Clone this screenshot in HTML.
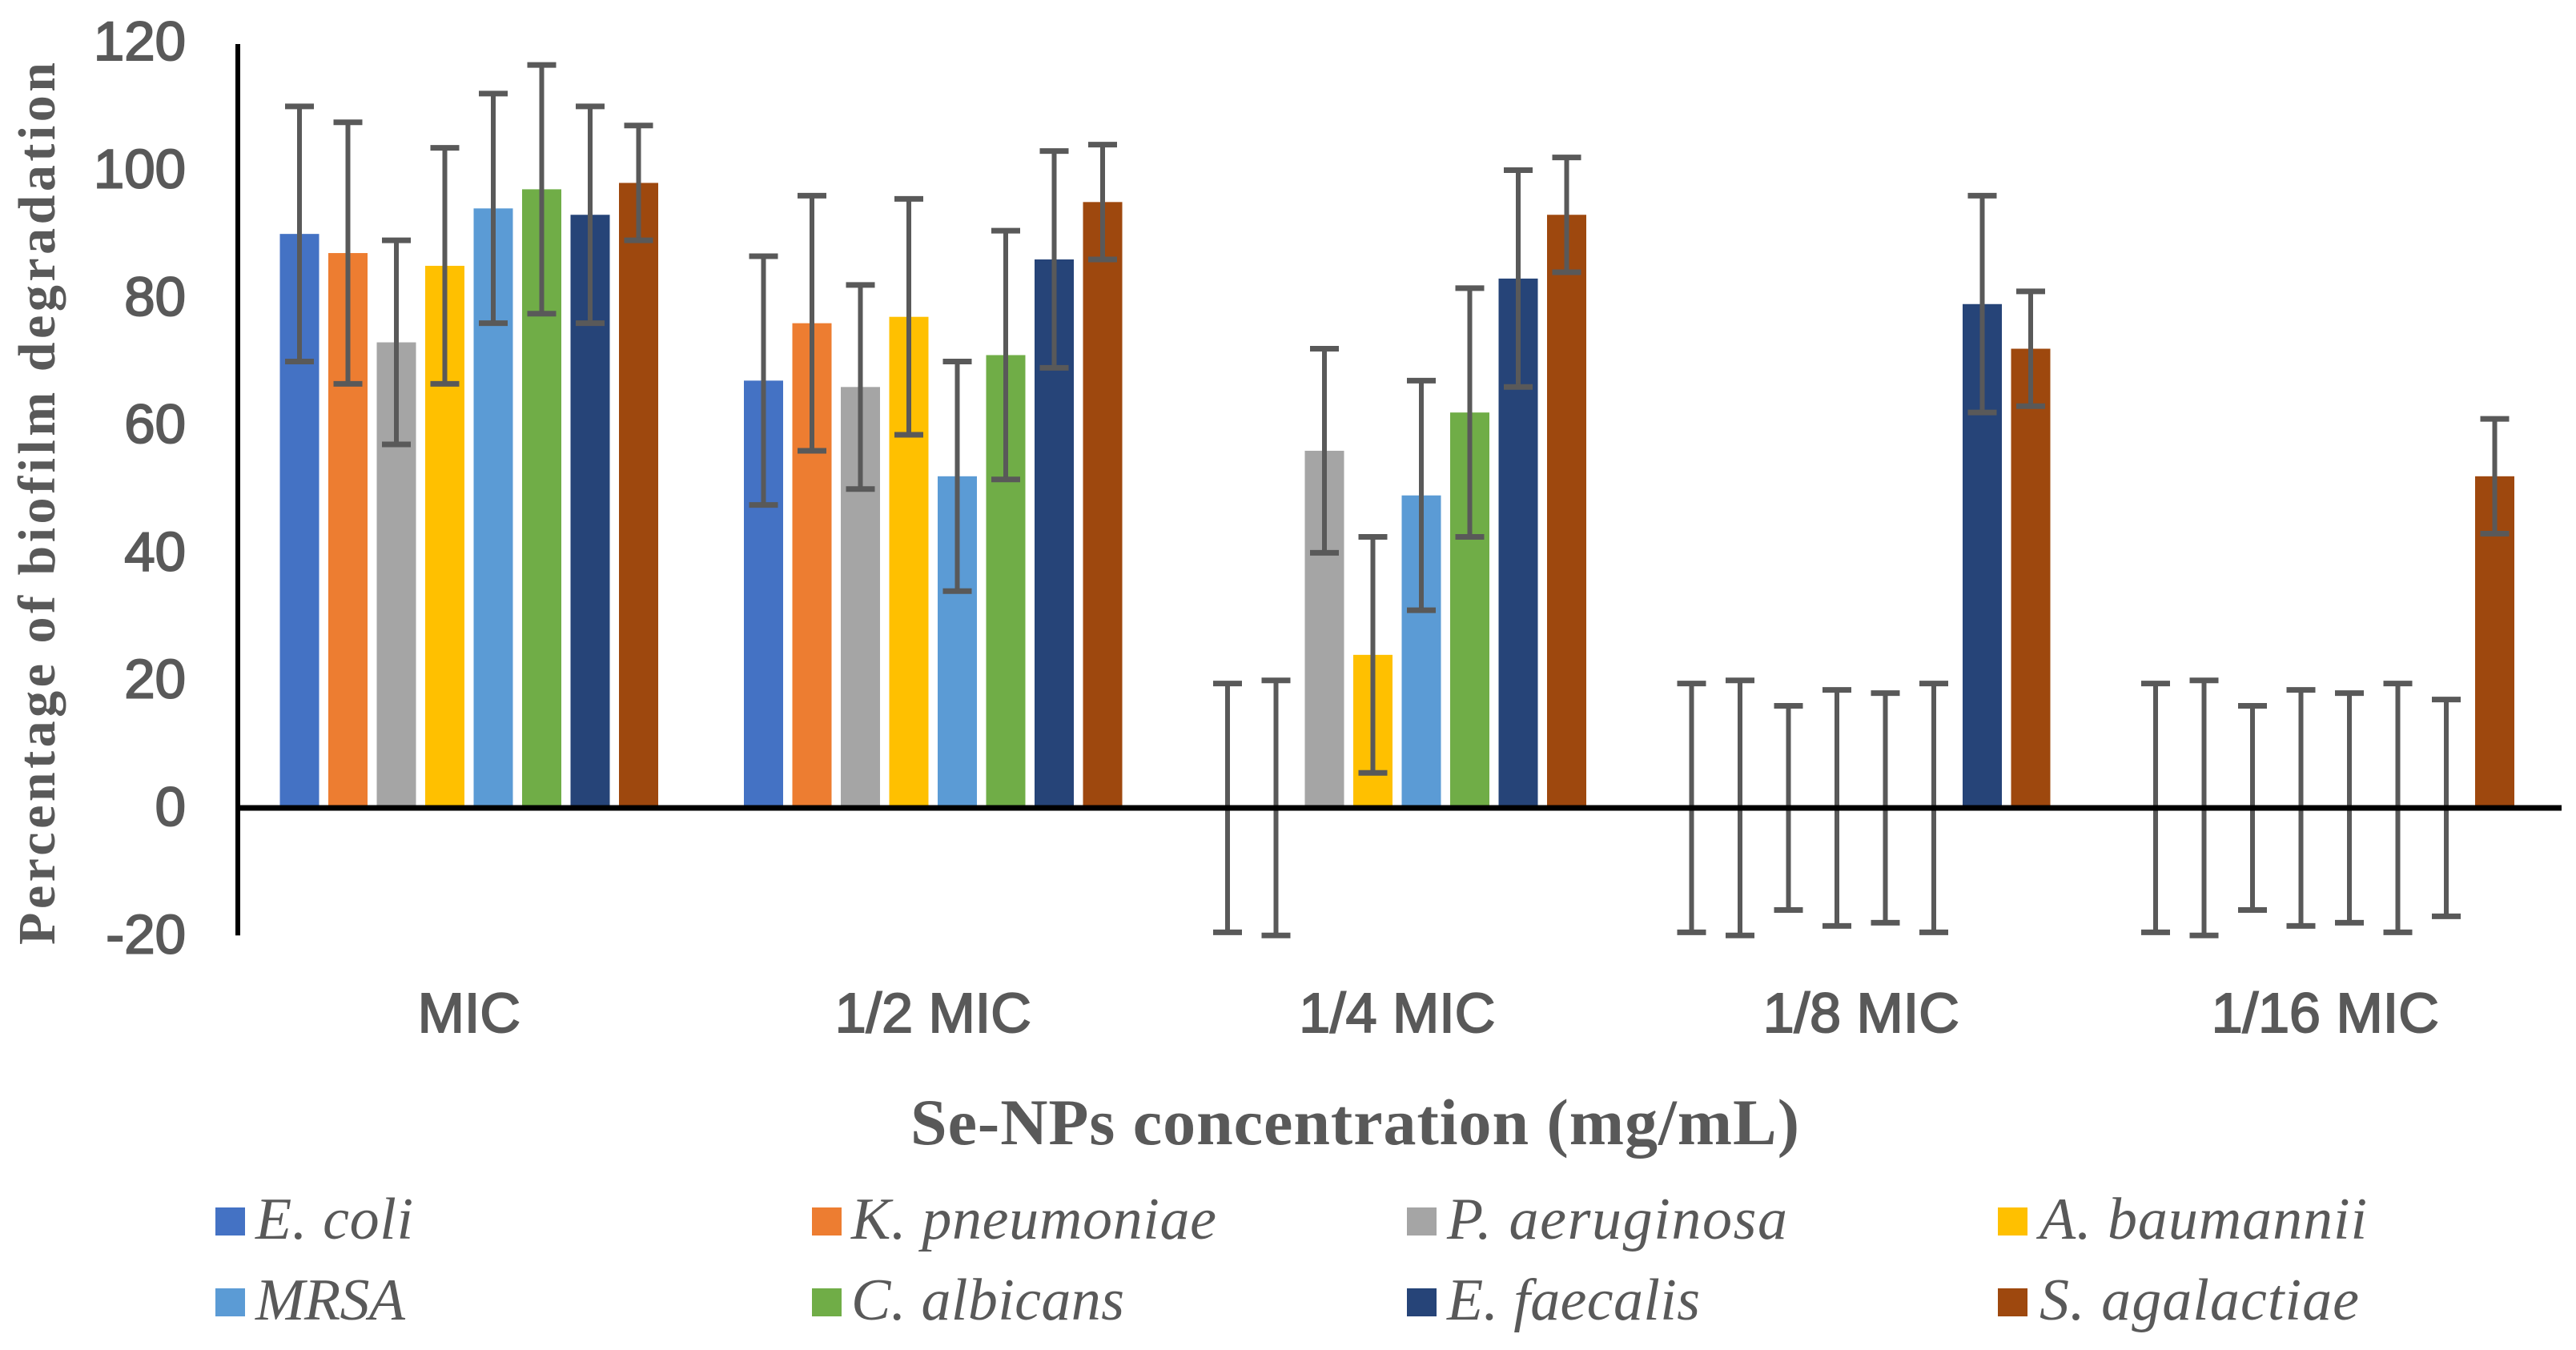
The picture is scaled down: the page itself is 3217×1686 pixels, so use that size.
<!DOCTYPE html>
<html lang="en">
<head>
<meta charset="utf-8">
<title>Percentage of biofilm degradation</title>
<style>
html,body{margin:0;padding:0;background:#fff;width:3217px;height:1686px;overflow:hidden}
svg{display:block}
.tick,.cat{font-family:"Liberation Sans",sans-serif;fill:#595959;stroke:#595959;stroke-width:2}
.title{font-family:"Liberation Serif",serif;font-weight:bold;fill:#595959}
.leg{font-family:"Liberation Serif",serif;font-style:italic;fill:#595959;font-size:74px}
</style>
</head>
<body>
<svg id="chart" xmlns="http://www.w3.org/2000/svg" width="3217" height="1686" viewBox="0 0 3217 1686">
<rect width="3217" height="1686" fill="#fff"/>
<g id="bars"></g>
<g id="ticks"></g>
<g id="cats"></g>
<g id="errs"></g>
<text class="title" transform="translate(68,1180) rotate(-90)" font-size="66" textLength="1102" lengthAdjust="spacing">Percentage of biofilm degradation</text>
<text class="title" x="1137" y="1429" font-size="82" textLength="1110" lengthAdjust="spacing">Se-NPs concentration (mg/mL)</text>
<g id="legend">
<rect x="269" y="1508" width="37" height="35" fill="#4472C4"/>
<text class="leg" x="319" y="1547" textLength="197">E. coli</text>
<rect x="1014" y="1508" width="37" height="35" fill="#ED7D31"/>
<text class="leg" x="1063" y="1547" textLength="456">K. pneumoniae</text>
<rect x="1757" y="1508" width="37" height="35" fill="#A5A5A5"/>
<text class="leg" x="1807" y="1547" textLength="425">P. aeruginosa</text>
<rect x="2495" y="1508" width="37" height="35" fill="#FFC000"/>
<text class="leg" x="2547" y="1547" textLength="409">A. baumannii</text>
<rect x="269" y="1609" width="37" height="35" fill="#5B9BD5"/>
<text class="leg" x="319" y="1648" textLength="187">MRSA</text>
<rect x="1014" y="1609" width="37" height="35" fill="#70AD47"/>
<text class="leg" x="1063" y="1648" textLength="341">C. albicans</text>
<rect x="1757" y="1609" width="37" height="35" fill="#264478"/>
<text class="leg" x="1807" y="1648" textLength="316">E. faecalis</text>
<rect x="2495" y="1609" width="37" height="35" fill="#9E480E"/>
<text class="leg" x="2547" y="1648" textLength="399">S. agalactiae</text>
</g>
</svg>
<script>
const categories = ["MIC", "1/2 MIC", "1/4 MIC", "1/8 MIC", "1/16 MIC"];
const tickLabels = [120, 100, 80, 60, 40, 20, 0, -20];
const seriesNames = ["E. coli", "K. pneumoniae", "P. aeruginosa", "A. baumannii", "MRSA", "C. albicans", "E. faecalis", "S. agalactiae"];
const seriesColors = ["#4472C4", "#ED7D31", "#A5A5A5", "#FFC000", "#5B9BD5", "#70AD47", "#264478", "#9E480E"];
const eColi = [90, 67, 0, 0, 0];
const kPneumoniae = [87, 76, 0, 0, 0];
const pAeruginosa = [73, 66, 56, 0, 0];
const aBaumannii = [85, 77, 24, 0, 0];
const mrsa = [94, 52, 49, 0, 0];
const cAlbicans = [97, 71, 62, 0, 0];
const eFaecalis = [93, 86, 83, 79, 0];
const sAgalactiae = [98, 95, 93, 72, 52];
const errEColi = [20, 19.5, 19.5, 19.5, 19.5];
const errKPneumoniae = [20.5, 20, 20, 20, 20];
const errPAeruginosa = [16, 16, 16, 16, 16];
const errABaumannii = [18.5, 18.5, 18.5, 18.5, 18.5];
const errMrsa = [18, 18, 18, 18, 18];
const errCAlbicans = [19.5, 19.5, 19.5, 19.5, 19.5];
const errEFaecalis = [17, 17, 17, 17, 17];
const errSAgalactiae = [9, 9, 9, 9, 9];
const seriesValues = [eColi, kPneumoniae, pAeruginosa, aBaumannii, mrsa, cAlbicans, eFaecalis, sAgalactiae];
const seriesErrors = [errEColi, errKPneumoniae, errPAeruginosa, errABaumannii, errMrsa, errCAlbicans, errEFaecalis, errSAgalactiae];

const NS = "http://www.w3.org/2000/svg";
const yScale = v => 1009 - v * 7.965;
const groupX = i => 349.5 + i * 579.5;
const barX = (i, s) => groupX(i) + s * 60.5;
const BAR_W = 49;
const CAP = 18;

function make(tag, parent, attrs) {
  const el = document.createElementNS(NS, tag);
  for (const k in attrs) el.setAttribute(k, attrs[k]);
  parent.appendChild(el);
  return el;
}
const slug = t => String(t).toLowerCase().replace(/[^a-z0-9]+/g, "-");

const barsG = document.getElementById("bars");
const errsG = document.getElementById("errs");
seriesValues.forEach((vals, s) => {
  vals.forEach((v, i) => {
    const x = barX(i, s);
    if (v > 0) {
      const r = make("rect", barsG, { x: x, y: yScale(v), width: BAR_W, height: yScale(0) - yScale(v), fill: seriesColors[s] });
      
      
    }
    const e = seriesErrors[s][i];
    const cx = x + BAR_W / 2;
    const g = make("g", errsG, { stroke: "#595959", fill: "none" });
    
    
    make("line", g, { x1: cx, x2: cx, y1: yScale(v + e), y2: yScale(v - e), "stroke-width": 6 });
    make("line", g, { x1: cx - CAP, x2: cx + CAP, y1: yScale(v + e), y2: yScale(v + e), "stroke-width": 7 });
    make("line", g, { x1: cx - CAP, x2: cx + CAP, y1: yScale(v - e), y2: yScale(v - e), "stroke-width": 7 });
  });
});

const ticksG = document.getElementById("ticks");
tickLabels.forEach(t => {
  const el = make("text", ticksG, { class: "tick", x: 232, y: yScale(t) + 22, "text-anchor": "end", "font-size": 69 });
  el.textContent = t;
  
  
});

const catsG = document.getElementById("cats");
categories.forEach((c, i) => {
  const el = make("text", catsG, { class: "cat", x: groupX(i) + 7 * 60.5 / 2 + BAR_W / 2, y: 1289, "text-anchor": "middle", "font-size": 70 });
  el.textContent = c;
  
  
});

const svg = document.getElementById("chart");
const yAxis = make("line", svg, { x1: 297, x2: 297, y1: 55, y2: yScale(-20), stroke: "#000", "stroke-width": 6 });


const xAxis = make("line", svg, { x1: 294, x2: 3199, y1: yScale(0), y2: yScale(0), stroke: "#000", "stroke-width": 7 });


</script>
</body>
</html>
